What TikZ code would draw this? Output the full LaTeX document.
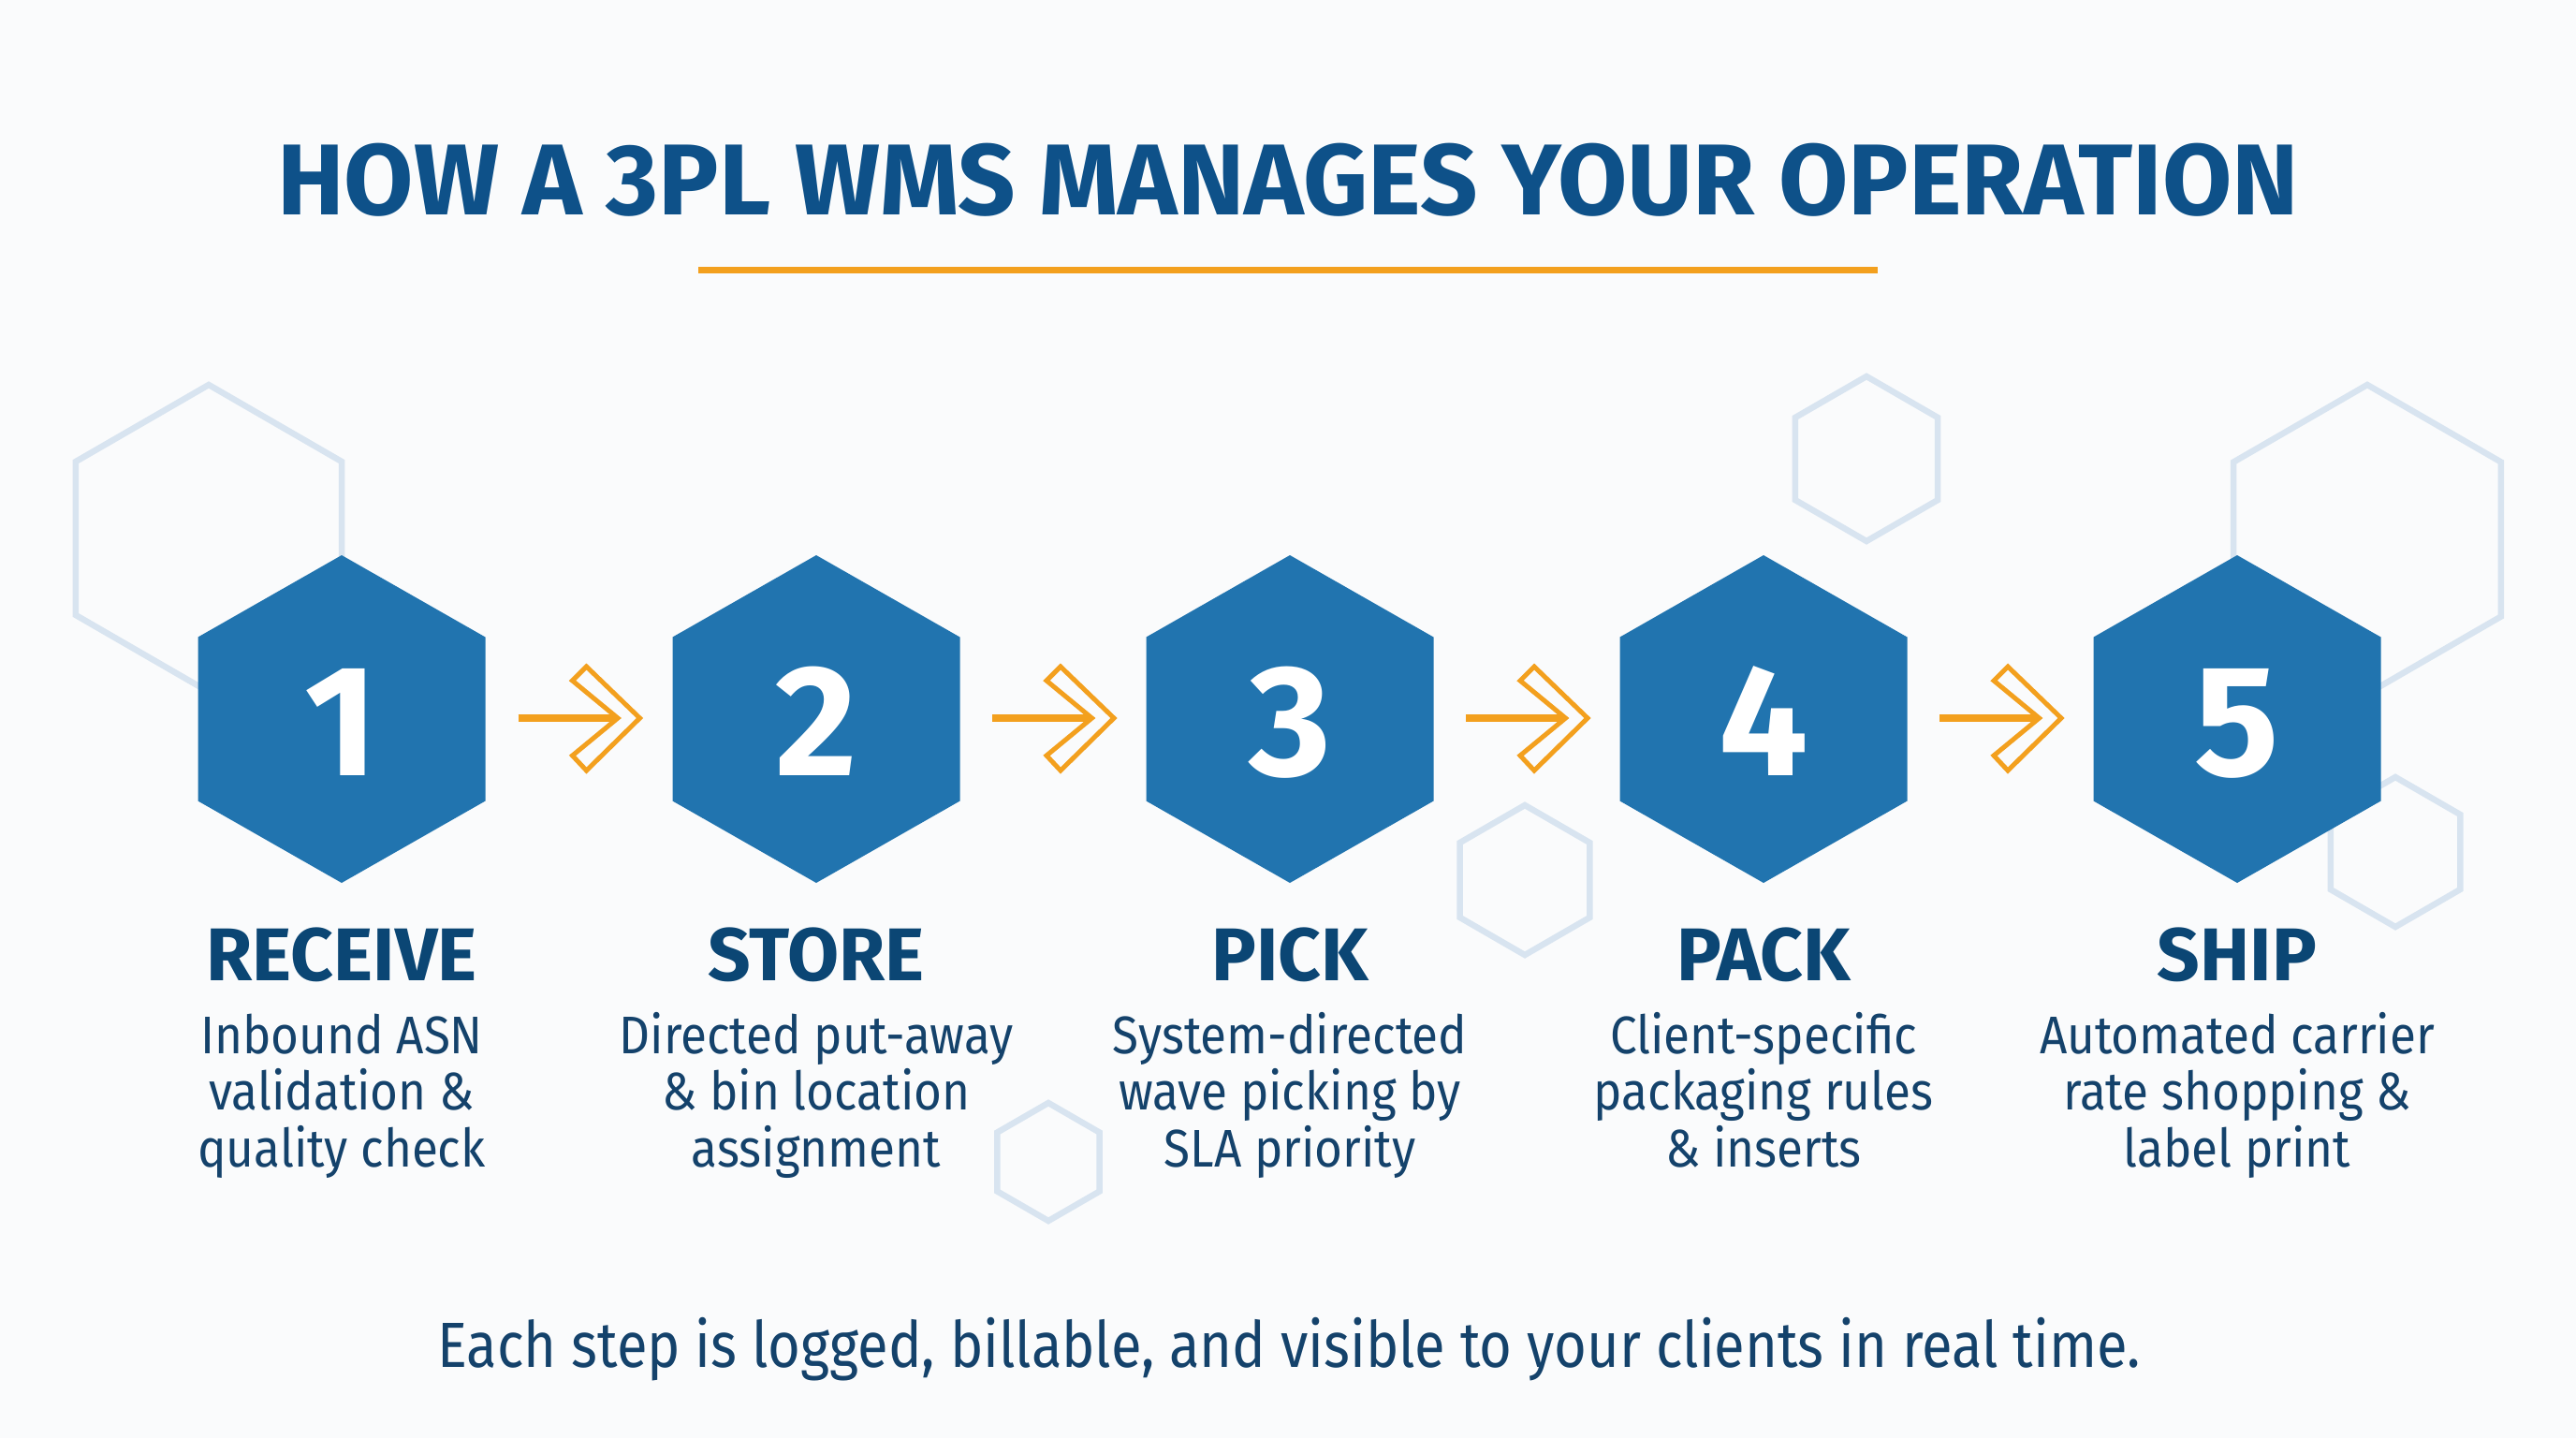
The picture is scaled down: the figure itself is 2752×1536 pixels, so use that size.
\documentclass[tikz,border=0pt]{standalone}
\usepackage{fontspec}
\setmainfont{Fira Sans}
\newfontfamily\bodyfont[FakeStretch=0.905]{Fira Sans}
\newfontfamily\footfont[FakeStretch=0.875]{Fira Sans}
\usetikzlibrary{calc}
\definecolor{titleblue}{HTML}{0E5189}
\definecolor{stepblue}{HTML}{0B4674}
\definecolor{bodyblue}{HTML}{14426B}
\definecolor{hexblue}{HTML}{2174AF}
\definecolor{accent}{HTML}{F3A01E}
\definecolor{hexline}{HTML}{D8E4F0}
\definecolor{bgcol}{HTML}{FAFBFC}
\tikzset{
  bghex/.style={draw=hexline, line width=0.065cm, line join=miter},
  mainhex/.style={fill=hexblue},
  numtxt/.style={text=white, font=\fontsize{48}{48}\selectfont\bfseries, anchor=base, inner sep=0},
  steptitle/.style={text=stepblue, font=\fontsize{22.7}{24}\selectfont\bfseries, anchor=base, inner sep=0},
  stepdesc/.style={text=bodyblue, font=\bodyfont\fontsize{16.1}{17.2}\selectfont, align=center, anchor=base, inner sep=0},
  arrowline/.style={draw=accent, line width=0.08cm},
  chev/.style={draw=accent, fill=bgcol, line width=0.05cm, line join=miter},
}
\newcommand{\hexoutline}[3]{%
  \draw[bghex] (#1,#2-#3) -- (#1+0.866*#3,#2-0.5*#3) -- (#1+0.866*#3,#2+0.5*#3) -- (#1,#2+#3)
    -- (#1-0.866*#3,#2+0.5*#3) -- (#1-0.866*#3,#2-0.5*#3) -- cycle;}
\begin{document}
\begin{tikzpicture}[x=0.01cm, y=-0.01cm]
\useasboundingbox (0,0) rectangle (2752,1536);
\fill[bgcol] (0,0) rectangle (2752,1536);

% background hexagon outlines
\hexoutline{223}{575}{164}
\hexoutline{1994}{490}{88}
\hexoutline{2529}{576}{165}
\hexoutline{1629}{940}{80}
\hexoutline{2559}{910}{80}
\hexoutline{1120}{1241}{63}

% title
\node[text=titleblue, font=\fontsize{30.6}{32}\selectfont\bfseries, anchor=base, inner sep=0] (title) at (1376,229) {HOW A 3PL WMS MANAGES YOUR OPERATION};
\draw[accent, line width=0.07cm] (746,288) -- (2006,288);

% main hexagons
\foreach \cx/\n in {365/1, 872/2, 1378/3, 1884/4, 2390/5}{
  \fill[mainhex] (\cx,593) -- (\cx+153.5,680.5) -- (\cx+153.5,855.5) -- (\cx,943)
    -- (\cx-153.5,855.5) -- (\cx-153.5,680.5) -- cycle;
  \node[numtxt] (h\n) at (\cx,828) {\n};
}

% arrows between steps
\foreach \a/\b in {1/2, 2/3, 3/4, 4/5}{
  \coordinate (m\a) at ($(h\a)!0.5!(h\b)$);
  \coordinate (mm\a) at ($(m\a |- 0,767)$);
  \draw[arrowline] ($(mm\a)+(-65,0)$) -- ($(mm\a)+(41.5,0)$);
  \draw[chev] ($(mm\a)+(8,-55)$) -- ($(mm\a)+(65,0)$) -- ($(mm\a)+(8,56)$) -- ($(mm\a)+(-7,40)$)
    -- ($(mm\a)+(41.5,0)$) -- ($(mm\a)+(-7,-40)$) -- cycle;
}

% step titles
\node[steptitle] (t1) at (365,1047) {RECEIVE};
\node[steptitle] (t2) at (872,1047) {STORE};
\node[steptitle] (t3) at (1378,1047) {PICK};
\node[steptitle] (t4) at (1884,1047) {PACK};
\node[steptitle] (t5) at (2390,1047) {SHIP};

% descriptions (anchor = baseline of last line)
\node[stepdesc] (d1) at (365,1246) {Inbound ASN\\validation \&\\quality check};
\node[stepdesc] (d2) at (872,1246) {Directed put-away\\\& bin location\\assignment};
\node[stepdesc] (d3) at (1378,1246) {System-directed\\wave picking by\\SLA priority};
\node[stepdesc] (d4) at (1884,1246) {Client-specific\\packaging rules\\\& inserts};
\node[stepdesc] (d5) at (2390,1246) {Automated carrier\\rate shopping \&\\label print};

% footer
\node[text=bodyblue, font=\footfont\fontsize{19.4}{22}\selectfont, anchor=base, inner sep=0] (foot) at (1377,1460) {Each step is logged, billable, and visible to your clients in real time.};
\end{tikzpicture}
\end{document}
